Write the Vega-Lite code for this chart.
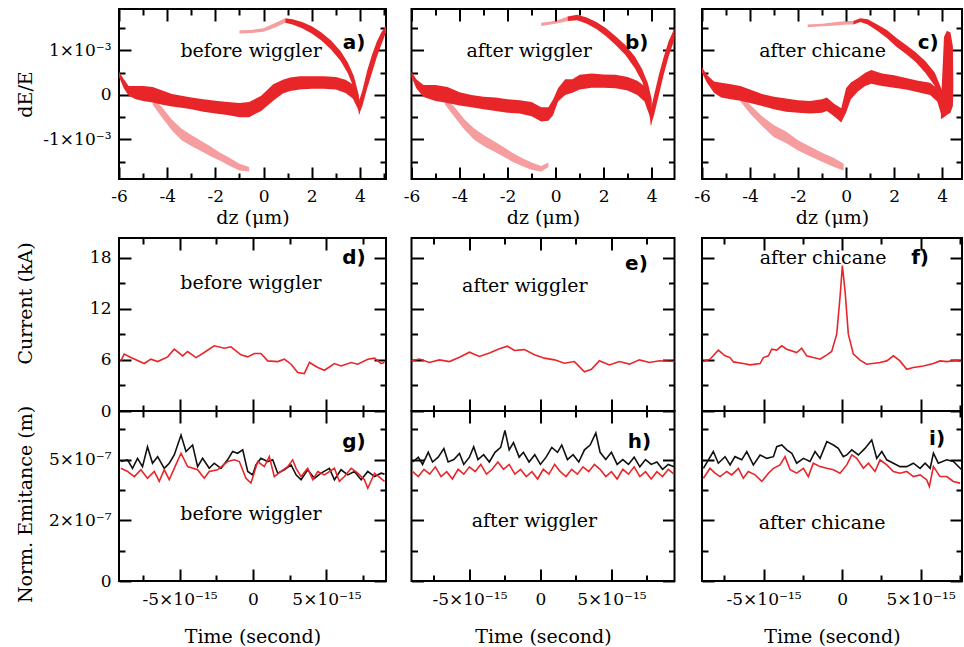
{
"$schema": "https://vega.github.io/schema/vega-lite/v6.json",
"background": "white",
"padding": {"left": 14, "top": 7, "right": 0, "bottom": 0},
"config": {
 "view": {"stroke": "black", "strokeWidth": 2},
 "axis": {"domain": false, "grid": false, "tickColor": "black", "tickWidth": 2, "labelFont": "DejaVu Serif", "labelFontSize": 17, "labelColor": "black", "titleFont": "DejaVu Serif", "titleFontSize": 19, "titleFontWeight": "normal", "titleColor": "black", "labelOverlap": false, "labelFlush": false, "labelBound": false}
},
"datasets": {
 "a_dense": [
  {"s":"m","x":-6,"lo":0.00040,"hi":0.00052},{"s":"m","x":-5.8,"lo":0.00015,"hi":0.00035},{"s":"m","x":-5.6,"lo":-0.00002,"hi":0.00020},{"s":"m","x":-5.3,"lo":-0.00010,"hi":0.00020},{"s":"m","x":-5.0,"lo":-0.00014,"hi":0.00020},{"s":"m","x":-4.6,"lo":-0.00017,"hi":0.00018},{"s":"m","x":-4.2,"lo":-0.00022,"hi":0.00010},{"s":"m","x":-3.8,"lo":-0.00026,"hi":0.00002},{"s":"m","x":-3.4,"lo":-0.00029,"hi":-0.00002},{"s":"m","x":-3.0,"lo":-0.00032,"hi":-0.00006},{"s":"m","x":-2.5,"lo":-0.00038,"hi":-0.00010},{"s":"m","x":-2.0,"lo":-0.00042,"hi":-0.00013},{"s":"m","x":-1.5,"lo":-0.00045,"hi":-0.00016},{"s":"m","x":-1.0,"lo":-0.00050,"hi":-0.00018},{"s":"m","x":-0.6,"lo":-0.00050,"hi":-0.00016},{"s":"m","x":-0.1,"lo":-0.00036,"hi":-0.00002},{"s":"m","x":0.4,"lo":-0.00013,"hi":0.00024},{"s":"m","x":0.8,"lo":0.00003,"hi":0.00034},{"s":"m","x":1.1,"lo":0.00009,"hi":0.00039},{"s":"m","x":1.5,"lo":0.00012,"hi":0.00042},{"s":"m","x":2.0,"lo":0.00014,"hi":0.00042},{"s":"m","x":2.5,"lo":0.00014,"hi":0.00042},{"s":"m","x":3.0,"lo":0.00012,"hi":0.00040},{"s":"m","x":3.4,"lo":0.00004,"hi":0.00034},{"s":"m","x":3.7,"lo":-0.00008,"hi":0.00024},{"s":"m","x":3.9,"lo":-0.00030,"hi":0.00005},{"s":"m","x":4.0,"lo":-0.00045,"hi":-0.00015},
  {"s":"u","x":0.9,"lo":0.00162,"hi":0.00172},{"s":"u","x":1.2,"lo":0.00158,"hi":0.00170},{"s":"u","x":1.6,"lo":0.00150,"hi":0.00164},{"s":"u","x":2.0,"lo":0.00138,"hi":0.00154},{"s":"u","x":2.4,"lo":0.00122,"hi":0.00140},{"s":"u","x":2.8,"lo":0.00102,"hi":0.00122},{"s":"u","x":3.2,"lo":0.00076,"hi":0.00098},{"s":"u","x":3.5,"lo":0.00048,"hi":0.00072},{"s":"u","x":3.75,"lo":0.00015,"hi":0.00042},{"s":"u","x":3.95,"lo":-0.00030,"hi":0.0},
  {"s":"r","x":3.95,"lo":-0.00045,"hi":-0.00015},{"s":"r","x":4.1,"lo":-0.00025,"hi":0.00010},{"s":"r","x":4.3,"lo":0.00015,"hi":0.00055},{"s":"r","x":4.5,"lo":0.00050,"hi":0.00090},{"s":"r","x":4.7,"lo":0.00085,"hi":0.00120},{"s":"r","x":4.9,"lo":0.00115,"hi":0.00142},{"s":"r","x":5.08,"lo":0.00140,"hi":0.00155}
 ],
 "a_sparse": [
  {"s":"u","x":-1.0,"lo":0.00138,"hi":0.00145},{"s":"u","x":-0.5,"lo":0.00139,"hi":0.00146},{"s":"u","x":0.0,"lo":0.00142,"hi":0.00150},{"s":"u","x":0.5,"lo":0.00152,"hi":0.00162},{"s":"u","x":0.9,"lo":0.00162,"hi":0.00172},
  {"s":"l","x":-4.6,"lo":-0.00022,"hi":-0.00005},{"s":"l","x":-4.2,"lo":-0.00052,"hi":-0.00029},{"s":"l","x":-3.8,"lo":-0.00080,"hi":-0.00056},{"s":"l","x":-3.4,"lo":-0.00102,"hi":-0.00076},{"s":"l","x":-3.0,"lo":-0.00115,"hi":-0.00090},{"s":"l","x":-2.6,"lo":-0.00126,"hi":-0.00103},{"s":"l","x":-2.2,"lo":-0.00138,"hi":-0.00116},{"s":"l","x":-1.8,"lo":-0.00148,"hi":-0.00130},{"s":"l","x":-1.4,"lo":-0.00160,"hi":-0.00142},{"s":"l","x":-1.0,"lo":-0.00170,"hi":-0.00155},{"s":"l","x":-0.6,"lo":-0.00172,"hi":-0.00162}
 ],
 "b_dense": [
  {"s":"m","x":-6,"lo":0.00040,"hi":0.00052},{"s":"m","x":-5.8,"lo":0.00015,"hi":0.00035},{"s":"m","x":-5.5,"lo":-0.00005,"hi":0.00022},{"s":"m","x":-5.0,"lo":-0.00014,"hi":0.00022},{"s":"m","x":-4.5,"lo":-0.00018,"hi":0.00018},{"s":"m","x":-4.0,"lo":-0.00024,"hi":0.00006},{"s":"m","x":-3.5,"lo":-0.00028,"hi":0.0},{"s":"m","x":-3.0,"lo":-0.00032,"hi":-0.00004},{"s":"m","x":-2.5,"lo":-0.00036,"hi":-0.00006},{"s":"m","x":-2.0,"lo":-0.00040,"hi":-0.00010},{"s":"m","x":-1.5,"lo":-0.00042,"hi":-0.00012},{"s":"m","x":-1.0,"lo":-0.00048,"hi":-0.00016},{"s":"m","x":-0.6,"lo":-0.00060,"hi":-0.00028},{"s":"m","x":-0.3,"lo":-0.00058,"hi":-0.00028},{"s":"m","x":-0.1,"lo":-0.00045,"hi":-0.00010},{"s":"m","x":0.1,"lo":-0.00015,"hi":0.00015},{"s":"m","x":0.4,"lo":0.0,"hi":0.00035},{"s":"m","x":0.7,"lo":0.00005,"hi":0.00035},{"s":"m","x":1.0,"lo":0.00012,"hi":0.00045},{"s":"m","x":1.5,"lo":0.00016,"hi":0.00048},{"s":"m","x":2.0,"lo":0.00016,"hi":0.00046},{"s":"m","x":2.5,"lo":0.00015,"hi":0.00045},{"s":"m","x":3.0,"lo":0.00010,"hi":0.00040},{"s":"m","x":3.4,"lo":0.0,"hi":0.00032},{"s":"m","x":3.7,"lo":-0.00015,"hi":0.00020},{"s":"m","x":3.9,"lo":-0.00045,"hi":-0.00005},{"s":"m","x":4.0,"lo":-0.00070,"hi":-0.00035},
  {"s":"u","x":0.5,"lo":0.00166,"hi":0.00176},{"s":"u","x":0.9,"lo":0.00168,"hi":0.00180},{"s":"u","x":1.3,"lo":0.00160,"hi":0.00174},{"s":"u","x":1.7,"lo":0.00148,"hi":0.00164},{"s":"u","x":2.1,"lo":0.00132,"hi":0.00150},{"s":"u","x":2.5,"lo":0.00112,"hi":0.00132},{"s":"u","x":2.9,"lo":0.00090,"hi":0.00112},{"s":"u","x":3.3,"lo":0.00060,"hi":0.00086},{"s":"u","x":3.6,"lo":0.00030,"hi":0.00058},{"s":"u","x":3.85,"lo":-0.00005,"hi":0.00025},{"s":"u","x":4.0,"lo":-0.00045,"hi":-0.00010},
  {"s":"r","x":3.95,"lo":-0.00070,"hi":-0.00035},{"s":"r","x":4.1,"lo":-0.00045,"hi":0.0},{"s":"r","x":4.3,"lo":0.0,"hi":0.00045},{"s":"r","x":4.5,"lo":0.00045,"hi":0.00085},{"s":"r","x":4.7,"lo":0.00085,"hi":0.00120},{"s":"r","x":4.95,"lo":0.00125,"hi":0.00150}
 ],
 "b_sparse": [
  {"s":"u","x":-0.6,"lo":0.00155,"hi":0.00162},{"s":"u","x":-0.2,"lo":0.00158,"hi":0.00165},{"s":"u","x":0.2,"lo":0.00162,"hi":0.00170},{"s":"u","x":0.5,"lo":0.00166,"hi":0.00176},
  {"s":"l","x":-4.6,"lo":-0.00022,"hi":-0.00005},{"s":"l","x":-4.2,"lo":-0.00050,"hi":-0.00028},{"s":"l","x":-3.8,"lo":-0.00078,"hi":-0.00055},{"s":"l","x":-3.4,"lo":-0.00100,"hi":-0.00075},{"s":"l","x":-3.0,"lo":-0.00115,"hi":-0.00090},{"s":"l","x":-2.6,"lo":-0.00126,"hi":-0.00103},{"s":"l","x":-2.2,"lo":-0.00138,"hi":-0.00116},{"s":"l","x":-1.8,"lo":-0.00150,"hi":-0.00130},{"s":"l","x":-1.4,"lo":-0.00160,"hi":-0.00142},{"s":"l","x":-1.0,"lo":-0.00168,"hi":-0.00152},{"s":"l","x":-0.6,"lo":-0.00172,"hi":-0.00160},{"s":"l","x":-0.3,"lo":-0.00162,"hi":-0.00152}
 ],
 "c_dense": [
  {"s":"m","x":-6,"lo":0.00050,"hi":0.00062},{"s":"m","x":-5.8,"lo":0.00028,"hi":0.00045},{"s":"m","x":-5.5,"lo":0.00005,"hi":0.00030},{"s":"m","x":-5.2,"lo":-0.00006,"hi":0.00027},{"s":"m","x":-4.8,"lo":-0.00010,"hi":0.00024},{"s":"m","x":-4.4,"lo":-0.00013,"hi":0.00020},{"s":"m","x":-4.0,"lo":-0.00018,"hi":0.00012},{"s":"m","x":-3.5,"lo":-0.00025,"hi":0.00002},{"s":"m","x":-3.0,"lo":-0.00032,"hi":-0.00004},{"s":"m","x":-2.5,"lo":-0.00038,"hi":-0.00008},{"s":"m","x":-2.0,"lo":-0.00040,"hi":-0.00012},{"s":"m","x":-1.5,"lo":-0.00042,"hi":-0.00014},{"s":"m","x":-1.0,"lo":-0.00040,"hi":-0.00010},{"s":"m","x":-0.8,"lo":-0.00036,"hi":-0.00006},{"s":"m","x":-0.5,"lo":-0.00048,"hi":-0.00020},{"s":"m","x":-0.2,"lo":-0.00062,"hi":-0.00030},{"s":"m","x":0.0,"lo":-0.00040,"hi":0.00015},{"s":"m","x":0.2,"lo":-0.00010,"hi":0.00028},{"s":"m","x":0.5,"lo":0.00008,"hi":0.00038},{"s":"m","x":0.8,"lo":0.00020,"hi":0.00050},{"s":"m","x":1.05,"lo":0.00025,"hi":0.00056},{"s":"m","x":1.5,"lo":0.00020,"hi":0.00048},{"s":"m","x":2.0,"lo":0.00016,"hi":0.00044},{"s":"m","x":2.5,"lo":0.00012,"hi":0.00038},{"s":"m","x":3.0,"lo":0.00006,"hi":0.00032},{"s":"m","x":3.5,"lo":0.0,"hi":0.00027},{"s":"m","x":3.8,"lo":-0.00015,"hi":0.00015},{"s":"m","x":4.0,"lo":-0.00050,"hi":-0.00020},
  {"s":"u","x":0.3,"lo":0.00158,"hi":0.00166},{"s":"u","x":0.6,"lo":0.00164,"hi":0.00172},{"s":"u","x":0.9,"lo":0.00158,"hi":0.00170},{"s":"u","x":1.3,"lo":0.00144,"hi":0.00158},{"s":"u","x":1.7,"lo":0.00128,"hi":0.00146},{"s":"u","x":2.1,"lo":0.00108,"hi":0.00128},{"s":"u","x":2.5,"lo":0.00092,"hi":0.00112},{"s":"u","x":2.9,"lo":0.00074,"hi":0.00096},{"s":"u","x":3.3,"lo":0.00050,"hi":0.00076},{"s":"u","x":3.7,"lo":0.00020,"hi":0.00050},{"s":"u","x":4.0,"lo":-0.00030,"hi":0.00010},
  {"s":"r","x":3.95,"lo":-0.00055,"hi":-0.00025},{"s":"r","x":4.08,"lo":-0.00050,"hi":0.00130},{"s":"r","x":4.2,"lo":-0.00045,"hi":0.00144},{"s":"r","x":4.35,"lo":-0.00040,"hi":0.00140},{"s":"r","x":4.45,"lo":-0.00025,"hi":0.00110},{"s":"r","x":4.47,"lo":0.0002,"hi":0.0002}
 ],
 "c_sparse": [
  {"s":"u","x":-1.6,"lo":0.00152,"hi":0.00158},{"s":"u","x":-1.0,"lo":0.00154,"hi":0.00160},{"s":"u","x":-0.4,"lo":0.00156,"hi":0.00164},{"s":"u","x":0.0,"lo":0.00158,"hi":0.00166},{"s":"u","x":0.3,"lo":0.00158,"hi":0.00166},
  {"s":"l","x":-4.4,"lo":-0.00015,"hi":0.0},{"s":"l","x":-4.0,"lo":-0.00042,"hi":-0.00022},{"s":"l","x":-3.5,"lo":-0.00070,"hi":-0.00048},{"s":"l","x":-3.0,"lo":-0.00095,"hi":-0.00068},{"s":"l","x":-2.5,"lo":-0.00108,"hi":-0.00082},{"s":"l","x":-2.0,"lo":-0.00125,"hi":-0.00102},{"s":"l","x":-1.5,"lo":-0.00138,"hi":-0.00116},{"s":"l","x":-1.0,"lo":-0.00150,"hi":-0.00130},{"s":"l","x":-0.5,"lo":-0.00162,"hi":-0.00142},{"s":"l","x":-0.1,"lo":-0.00170,"hi":-0.00155}
 ],
 "d_cur": [
  {"t":-8.99e-15,"v":5.88},{"t":-8.77e-15,"v":6.67},{"t":-8.31e-15,"v":6.27},{"t":-7.40e-15,"v":5.57},{"t":-6.95e-15,"v":6.08},{"t":-6.49e-15,"v":5.80},{"t":-5.81e-15,"v":6.35},{"t":-5.36e-15,"v":7.25},{"t":-4.79e-15,"v":6.47},{"t":-4.45e-15,"v":6.98},{"t":-3.88e-15,"v":6.27},{"t":-3.32e-15,"v":6.86},{"t":-2.64e-15,"v":7.65},{"t":-1.95e-15,"v":7.37},{"t":-1.50e-15,"v":7.53},{"t":-0.82e-15,"v":6.59},{"t":-0.36e-15,"v":6.35},{"t":0.09e-15,"v":6.75},{"t":0.54e-15,"v":6.75},{"t":1.00e-15,"v":5.88},{"t":1.68e-15,"v":5.80},{"t":2.13e-15,"v":6.08},{"t":2.59e-15,"v":5.49},{"t":3.04e-15,"v":4.51},{"t":3.49e-15,"v":4.39},{"t":3.84e-15,"v":5.69},{"t":4.41e-15,"v":5.10},{"t":4.86e-15,"v":4.78},{"t":5.54e-15,"v":5.57},{"t":5.99e-15,"v":5.29},{"t":6.68e-15,"v":5.69},{"t":7.13e-15,"v":5.49},{"t":7.81e-15,"v":6.08},{"t":8.27e-15,"v":6.20},{"t":8.72e-15,"v":5.57},{"t":8.95e-15,"v":5.69}
 ],
 "e_cur": [
  {"t":-9.08e-15,"v":5.9},{"t":-8.52e-15,"v":6.1},{"t":-7.82e-15,"v":5.7},{"t":-7.11e-15,"v":6.0},{"t":-6.41e-15,"v":5.8},{"t":-5.70e-15,"v":6.3},{"t":-5.00e-15,"v":6.9},{"t":-4.30e-15,"v":6.4},{"t":-3.59e-15,"v":6.8},{"t":-2.89e-15,"v":7.3},{"t":-2.32e-15,"v":7.6},{"t":-1.83e-15,"v":7.1},{"t":-1.13e-15,"v":7.2},{"t":-0.42e-15,"v":6.6},{"t":0.28e-15,"v":6.2},{"t":0.99e-15,"v":6.0},{"t":1.69e-15,"v":5.6},{"t":2.39e-15,"v":5.8},{"t":3.10e-15,"v":4.6},{"t":3.59e-15,"v":4.9},{"t":4.15e-15,"v":5.9},{"t":4.86e-15,"v":5.4},{"t":5.56e-15,"v":5.8},{"t":6.27e-15,"v":5.5},{"t":6.97e-15,"v":6.0},{"t":7.68e-15,"v":5.7},{"t":8.38e-15,"v":5.9},{"t":9.44e-15,"v":5.8}
 ],
 "f_cur": [
  {"t":-8.83e-15,"v":5.80},{"t":-8.41e-15,"v":6.08},{"t":-7.88e-15,"v":7.14},{"t":-7.45e-15,"v":6.47},{"t":-7.13e-15,"v":6.27},{"t":-6.92e-15,"v":5.76},{"t":-6.29e-15,"v":5.57},{"t":-5.86e-15,"v":5.41},{"t":-5.22e-15,"v":5.57},{"t":-5.01e-15,"v":6.27},{"t":-4.69e-15,"v":6.47},{"t":-4.48e-15,"v":7.25},{"t":-4.16e-15,"v":7.14},{"t":-3.84e-15,"v":7.65},{"t":-3.52e-15,"v":7.25},{"t":-2.89e-15,"v":6.86},{"t":-2.57e-15,"v":7.37},{"t":-2.25e-15,"v":6.47},{"t":-1.83e-15,"v":6.27},{"t":-1.40e-15,"v":6.08},{"t":-0.97e-15,"v":6.59},{"t":-0.66e-15,"v":6.98},{"t":-0.34e-15,"v":9.02},{"t":-0.13e-15,"v":13.33},{"t":0.02e-15,"v":17.06},{"t":0.19e-15,"v":14.12},{"t":0.40e-15,"v":9.02},{"t":0.72e-15,"v":6.67},{"t":1.15e-15,"v":5.96},{"t":1.57e-15,"v":5.49},{"t":2.42e-15,"v":5.69},{"t":2.85e-15,"v":5.88},{"t":3.27e-15,"v":6.47},{"t":3.69e-15,"v":5.88},{"t":4.12e-15,"v":4.90},{"t":4.54e-15,"v":5.10},{"t":5.18e-15,"v":5.29},{"t":5.82e-15,"v":5.57},{"t":6.24e-15,"v":5.88},{"t":6.67e-15,"v":5.80},{"t":7.31e-15,"v":5.96},{"t":7.62e-15,"v":5.80}
 ],
 "g_blk": [
  {"t":-8.99e-15,"v":4.92e-7},{"t":-8.54e-15,"v":4.99e-7},{"t":-8.20e-15,"v":4.64e-7},{"t":-7.86e-15,"v":5.05e-7},{"t":-7.52e-15,"v":4.71e-7},{"t":-7.18e-15,"v":5.53e-7},{"t":-6.84e-15,"v":4.85e-7},{"t":-6.49e-15,"v":5.12e-7},{"t":-6.04e-15,"v":4.64e-7},{"t":-5.70e-15,"v":4.85e-7},{"t":-5.36e-15,"v":5.19e-7},{"t":-4.90e-15,"v":6.01e-7},{"t":-4.56e-15,"v":5.33e-7},{"t":-4.11e-15,"v":5.60e-7},{"t":-3.77e-15,"v":4.71e-7},{"t":-3.43e-15,"v":5.05e-7},{"t":-2.98e-15,"v":4.64e-7},{"t":-2.64e-15,"v":4.85e-7},{"t":-2.18e-15,"v":4.64e-7},{"t":-1.73e-15,"v":4.99e-7},{"t":-1.39e-15,"v":5.33e-7},{"t":-1.05e-15,"v":5.26e-7},{"t":-0.70e-15,"v":5.40e-7},{"t":-0.36e-15,"v":4.51e-7},{"t":-0.02e-15,"v":4.37e-7},{"t":0.20e-15,"v":4.78e-7},{"t":0.54e-15,"v":5.05e-7},{"t":1.00e-15,"v":4.92e-7},{"t":1.34e-15,"v":4.99e-7},{"t":1.68e-15,"v":4.44e-7},{"t":2.13e-15,"v":4.58e-7},{"t":2.59e-15,"v":4.78e-7},{"t":2.93e-15,"v":4.37e-7},{"t":3.27e-15,"v":4.17e-7},{"t":3.72e-15,"v":4.58e-7},{"t":4.18e-15,"v":4.23e-7},{"t":4.63e-15,"v":4.44e-7},{"t":5.20e-15,"v":4.64e-7},{"t":5.54e-15,"v":4.17e-7},{"t":5.99e-15,"v":4.58e-7},{"t":6.45e-15,"v":4.37e-7},{"t":6.90e-15,"v":4.51e-7},{"t":7.36e-15,"v":4.17e-7},{"t":7.81e-15,"v":4.51e-7},{"t":8.27e-15,"v":4.30e-7},{"t":8.72e-15,"v":4.44e-7},{"t":8.95e-15,"v":4.40e-7}
 ],
 "g_red": [
  {"t":-8.99e-15,"v":4.64e-7},{"t":-8.54e-15,"v":4.51e-7},{"t":-8.08e-15,"v":4.30e-7},{"t":-7.63e-15,"v":4.58e-7},{"t":-7.18e-15,"v":4.23e-7},{"t":-6.72e-15,"v":4.51e-7},{"t":-6.38e-15,"v":4.10e-7},{"t":-6.04e-15,"v":4.58e-7},{"t":-5.70e-15,"v":4.17e-7},{"t":-5.36e-15,"v":4.64e-7},{"t":-4.90e-15,"v":5.26e-7},{"t":-4.45e-15,"v":4.71e-7},{"t":-3.77e-15,"v":4.58e-7},{"t":-3.32e-15,"v":4.23e-7},{"t":-2.98e-15,"v":4.51e-7},{"t":-2.41e-15,"v":4.58e-7},{"t":-1.73e-15,"v":4.92e-7},{"t":-1.27e-15,"v":4.99e-7},{"t":-0.93e-15,"v":4.92e-7},{"t":-0.48e-15,"v":4.23e-7},{"t":-0.14e-15,"v":4.03e-7},{"t":0.32e-15,"v":4.92e-7},{"t":0.77e-15,"v":4.71e-7},{"t":1.11e-15,"v":5.12e-7},{"t":1.45e-15,"v":4.30e-7},{"t":1.91e-15,"v":4.51e-7},{"t":2.36e-15,"v":4.71e-7},{"t":2.70e-15,"v":4.99e-7},{"t":2.93e-15,"v":4.64e-7},{"t":3.27e-15,"v":4.30e-7},{"t":3.72e-15,"v":4.64e-7},{"t":4.07e-15,"v":4.17e-7},{"t":4.41e-15,"v":4.51e-7},{"t":4.86e-15,"v":4.37e-7},{"t":5.54e-15,"v":4.64e-7},{"t":5.88e-15,"v":4.10e-7},{"t":6.22e-15,"v":4.30e-7},{"t":6.68e-15,"v":4.64e-7},{"t":7.13e-15,"v":4.44e-7},{"t":7.58e-15,"v":4.17e-7},{"t":7.81e-15,"v":3.82e-7},{"t":8.27e-15,"v":4.44e-7},{"t":8.95e-15,"v":4.10e-7}
 ],
 "h_blk": [
  {"t":-9.0e-15,"v":4.9e-7},{"t":-8.6e-15,"v":5.1e-7},{"t":-8.3e-15,"v":4.8e-7},{"t":-7.9e-15,"v":5.3e-7},{"t":-7.6e-15,"v":4.9e-7},{"t":-7.2e-15,"v":5.1e-7},{"t":-6.8e-15,"v":5.45e-7},{"t":-6.5e-15,"v":4.9e-7},{"t":-6.1e-15,"v":5.0e-7},{"t":-5.7e-15,"v":5.25e-7},{"t":-5.4e-15,"v":4.8e-7},{"t":-5.0e-15,"v":5.1e-7},{"t":-4.7e-15,"v":5.53e-7},{"t":-4.4e-15,"v":5.0e-7},{"t":-4.0e-15,"v":5.2e-7},{"t":-3.6e-15,"v":4.9e-7},{"t":-3.2e-15,"v":5.3e-7},{"t":-2.8e-15,"v":5.5e-7},{"t":-2.5e-15,"v":6.2e-7},{"t":-2.2e-15,"v":5.4e-7},{"t":-1.9e-15,"v":5.7e-7},{"t":-1.5e-15,"v":5.1e-7},{"t":-1.2e-15,"v":5.3e-7},{"t":-0.8e-15,"v":4.9e-7},{"t":-0.4e-15,"v":5.2e-7},{"t":0.0,"v":4.8e-7},{"t":0.4e-15,"v":5.1e-7},{"t":0.8e-15,"v":5.5e-7},{"t":1.2e-15,"v":5.3e-7},{"t":1.5e-15,"v":5.6e-7},{"t":1.9e-15,"v":5.0e-7},{"t":2.3e-15,"v":5.2e-7},{"t":2.7e-15,"v":4.9e-7},{"t":3.1e-15,"v":5.4e-7},{"t":3.5e-15,"v":5.6e-7},{"t":3.9e-15,"v":6.1e-7},{"t":4.2e-15,"v":5.3e-7},{"t":4.6e-15,"v":5.0e-7},{"t":5.0e-15,"v":5.3e-7},{"t":5.4e-15,"v":4.8e-7},{"t":5.8e-15,"v":5.0e-7},{"t":6.2e-15,"v":4.8e-7},{"t":6.6e-15,"v":5.1e-7},{"t":7.0e-15,"v":4.7e-7},{"t":7.4e-15,"v":5.0e-7},{"t":7.8e-15,"v":4.8e-7},{"t":8.2e-15,"v":4.9e-7},{"t":8.6e-15,"v":4.6e-7},{"t":9.0e-15,"v":4.8e-7},{"t":9.4e-15,"v":4.7e-7}
 ],
 "h_red": [
  {"t":-9.0e-15,"v":4.5e-7},{"t":-8.6e-15,"v":4.3e-7},{"t":-8.2e-15,"v":4.6e-7},{"t":-7.8e-15,"v":4.4e-7},{"t":-7.4e-15,"v":4.7e-7},{"t":-7.0e-15,"v":4.3e-7},{"t":-6.6e-15,"v":4.5e-7},{"t":-6.2e-15,"v":4.2e-7},{"t":-5.8e-15,"v":4.6e-7},{"t":-5.4e-15,"v":4.4e-7},{"t":-5.0e-15,"v":4.7e-7},{"t":-4.6e-15,"v":4.5e-7},{"t":-4.2e-15,"v":4.8e-7},{"t":-3.8e-15,"v":4.4e-7},{"t":-3.4e-15,"v":4.6e-7},{"t":-3.0e-15,"v":4.9e-7},{"t":-2.6e-15,"v":4.6e-7},{"t":-2.2e-15,"v":4.8e-7},{"t":-1.8e-15,"v":4.4e-7},{"t":-1.4e-15,"v":4.6e-7},{"t":-1.0e-15,"v":4.3e-7},{"t":-0.6e-15,"v":4.5e-7},{"t":-0.2e-15,"v":4.2e-7},{"t":0.2e-15,"v":4.6e-7},{"t":0.6e-15,"v":4.4e-7},{"t":1.0e-15,"v":4.8e-7},{"t":1.4e-15,"v":4.5e-7},{"t":1.8e-15,"v":4.3e-7},{"t":2.2e-15,"v":4.6e-7},{"t":2.6e-15,"v":4.4e-7},{"t":3.0e-15,"v":4.7e-7},{"t":3.4e-15,"v":4.5e-7},{"t":3.8e-15,"v":4.8e-7},{"t":4.2e-15,"v":4.6e-7},{"t":4.6e-15,"v":4.3e-7},{"t":5.0e-15,"v":4.5e-7},{"t":5.4e-15,"v":4.2e-7},{"t":5.8e-15,"v":4.6e-7},{"t":6.2e-15,"v":4.4e-7},{"t":6.6e-15,"v":4.7e-7},{"t":7.0e-15,"v":4.3e-7},{"t":7.4e-15,"v":4.5e-7},{"t":7.8e-15,"v":4.2e-7},{"t":8.2e-15,"v":4.5e-7},{"t":8.6e-15,"v":4.3e-7},{"t":9.0e-15,"v":4.6e-7},{"t":9.4e-15,"v":4.4e-7}
 ],
 "i_blk": [
  {"t":-8.83e-15,"v":4.64e-7},{"t":-8.20e-15,"v":5.33e-7},{"t":-7.88e-15,"v":4.85e-7},{"t":-7.45e-15,"v":5.12e-7},{"t":-7.13e-15,"v":4.78e-7},{"t":-6.82e-15,"v":5.12e-7},{"t":-6.39e-15,"v":4.99e-7},{"t":-6.07e-15,"v":5.33e-7},{"t":-5.65e-15,"v":4.78e-7},{"t":-5.22e-15,"v":5.19e-7},{"t":-4.80e-15,"v":5.05e-7},{"t":-4.37e-15,"v":5.12e-7},{"t":-4.16e-15,"v":5.53e-7},{"t":-3.84e-15,"v":5.60e-7},{"t":-3.52e-15,"v":5.40e-7},{"t":-3.20e-15,"v":5.26e-7},{"t":-2.89e-15,"v":4.85e-7},{"t":-2.46e-15,"v":5.05e-7},{"t":-2.04e-15,"v":4.92e-7},{"t":-1.72e-15,"v":5.33e-7},{"t":-1.40e-15,"v":5.05e-7},{"t":-0.97e-15,"v":5.74e-7},{"t":-0.55e-15,"v":5.60e-7},{"t":-0.24e-15,"v":5.46e-7},{"t":0.08e-15,"v":5.12e-7},{"t":0.30e-15,"v":5.19e-7},{"t":0.62e-15,"v":5.40e-7},{"t":1.04e-15,"v":5.19e-7},{"t":1.46e-15,"v":5.46e-7},{"t":1.89e-15,"v":5.81e-7},{"t":2.21e-15,"v":5.05e-7},{"t":2.53e-15,"v":5.33e-7},{"t":2.85e-15,"v":4.99e-7},{"t":3.27e-15,"v":4.85e-7},{"t":3.69e-15,"v":4.71e-7},{"t":4.12e-15,"v":4.71e-7},{"t":4.54e-15,"v":4.85e-7},{"t":4.97e-15,"v":4.64e-7},{"t":5.29e-15,"v":4.85e-7},{"t":5.61e-15,"v":4.64e-7},{"t":5.82e-15,"v":5.26e-7},{"t":6.13e-15,"v":4.85e-7},{"t":6.67e-15,"v":4.99e-7},{"t":7.09e-15,"v":4.92e-7},{"t":7.62e-15,"v":4.58e-7}
 ],
 "i_red": [
  {"t":-8.83e-15,"v":4.23e-7},{"t":-8.41e-15,"v":4.64e-7},{"t":-8.09e-15,"v":4.44e-7},{"t":-7.77e-15,"v":4.30e-7},{"t":-7.34e-15,"v":4.51e-7},{"t":-7.03e-15,"v":4.37e-7},{"t":-6.60e-15,"v":4.64e-7},{"t":-6.29e-15,"v":4.23e-7},{"t":-5.97e-15,"v":4.51e-7},{"t":-5.54e-15,"v":4.37e-7},{"t":-5.11e-15,"v":4.10e-7},{"t":-4.69e-15,"v":4.44e-7},{"t":-4.37e-15,"v":4.64e-7},{"t":-3.95e-15,"v":4.78e-7},{"t":-3.63e-15,"v":5.12e-7},{"t":-3.31e-15,"v":4.58e-7},{"t":-2.89e-15,"v":4.44e-7},{"t":-2.46e-15,"v":4.64e-7},{"t":-2.15e-15,"v":4.30e-7},{"t":-1.83e-15,"v":4.85e-7},{"t":-1.40e-15,"v":4.71e-7},{"t":-0.97e-15,"v":4.64e-7},{"t":-0.55e-15,"v":4.58e-7},{"t":-0.13e-15,"v":4.44e-7},{"t":0.30e-15,"v":4.78e-7},{"t":0.62e-15,"v":5.19e-7},{"t":0.94e-15,"v":5.05e-7},{"t":1.36e-15,"v":4.64e-7},{"t":1.68e-15,"v":4.85e-7},{"t":2.10e-15,"v":4.51e-7},{"t":2.42e-15,"v":4.99e-7},{"t":2.85e-15,"v":4.78e-7},{"t":3.27e-15,"v":4.51e-7},{"t":3.69e-15,"v":4.44e-7},{"t":4.12e-15,"v":4.51e-7},{"t":4.54e-15,"v":4.30e-7},{"t":4.97e-15,"v":4.37e-7},{"t":5.39e-15,"v":4.17e-7},{"t":5.56e-15,"v":3.89e-7},{"t":5.82e-15,"v":4.71e-7},{"t":6.24e-15,"v":4.30e-7},{"t":6.67e-15,"v":4.30e-7},{"t":7.09e-15,"v":4.10e-7},{"t":7.52e-15,"v":4.03e-7}
 ],
 "notes": [
  {"p":"a","x":-0.52,"y":0.00099,"t":"before wiggler"},
  {"p":"b","x":-1.1,"y":0.00099,"t":"after wiggler"},
  {"p":"c","x":-0.98,"y":0.00099,"t":"after chicane"},
  {"p":"d","x":-1.4e-16,"y":15.06,"t":"before wiggler"},
  {"p":"e","x":-1.1e-15,"y":14.7,"t":"after wiggler"},
  {"p":"f","x":-1.21e-15,"y":17.9,"t":"after chicane"},
  {"p":"g","x":-1.4e-16,"y":2.75e-7,"t":"before wiggler"},
  {"p":"h","x":-4.2e-16,"y":2.46e-7,"t":"after wiggler"},
  {"p":"i","x":-1.27e-15,"y":2.38e-7,"t":"after chicane"}
 ],
 "letters": [
  {"p":"a","x":3.75,"y":0.00117,"t":"a)"},
  {"p":"b","x":3.38,"y":0.00117,"t":"b)"},
  {"p":"c","x":3.42,"y":0.00117,"t":"c)"},
  {"p":"d","x":6.87e-15,"y":17.9,"t":"d)"},
  {"p":"e","x":6.76e-15,"y":17.3,"t":"e)"},
  {"p":"f","x":4.97e-15,"y":17.9,"t":"f)"},
  {"p":"g","x":6.87e-15,"y":5.74e-7,"t":"g)"},
  {"p":"h","x":6.97e-15,"y":5.74e-7,"t":"h)"},
  {"p":"i","x":6.05e-15,"y":5.86e-7,"t":"i)"}
 ]
},
"hconcat": [
 {"vconcat": [
  {"width": 267, "height": 170,
   "layer": [
    {"data": {"name": "a_dense"}, "mark": {"type": "area", "color": "#e8262a"},
     "encoding": {
      "x": {"field": "x", "type": "quantitative", "scale": {"domain": [-6, 5.08], "nice": false, "zero": false}, "axis": {"orient": "bottom", "values": [-6,-5,-4,-3,-2,-1,0,1,2,3,4,5], "tickSize": {"condition": {"test": "datum.value % 2 == 0", "value": -12}, "value": -6}, "labelExpr": "datum.value % 2 == 0 ? '' + datum.value : ''", "labelPadding": 21, "title": "dz (μm)", "titleY": 38, "titleBaseline": "middle"}},
      "y": {"field": "lo", "type": "quantitative", "scale": {"domain": [-0.00189, 0.00193], "nice": false, "zero": false}, "axis": {"orient": "left", "values": [-0.0015,-0.001,-0.0005,0,0.0005,0.001,0.0015], "tickSize": {"condition": {"test": "abs(datum.value) < 1e-9 || abs(abs(datum.value) - 0.001) < 1e-9", "value": -12}, "value": -6}, "labelExpr": "abs(datum.value) < 1e-9 ? '0' : abs(datum.value - 0.001) < 1e-9 ? '1×10⁻³' : abs(datum.value + 0.001) < 1e-9 ? '-1×10⁻³' : ''", "labelPadding": 20, "title": "dE/E", "titleX": -94, "titleBaseline": "middle"}},
      "y2": {"field": "hi"},
      "detail": {"field": "s"}}},
    {"data": {"name": "a_sparse"}, "mark": {"type": "area", "color": "#e8262a", "opacity": 0.45},
     "encoding": {"x": {"field": "x", "type": "quantitative", "axis": null}, "y": {"field": "lo", "type": "quantitative", "axis": null}, "y2": {"field": "hi"}, "detail": {"field": "s"}}},
    {"data": {"name": "notes"}, "transform": [{"filter": "datum.p == 'a'"}], "mark": {"type": "text", "font": "DejaVu Serif", "fontSize": 19, "color": "black", "align": "center", "baseline": "middle"},
     "encoding": {"x": {"field": "x", "type": "quantitative", "axis": {"orient": "top", "values": [-6,-5,-4,-3,-2,-1,0,1,2,3,4,5], "tickSize": {"condition": {"test": "datum.value % 2 == 0", "value": -12}, "value": -6}, "labels": false, "title": null}},
      "y": {"field": "y", "type": "quantitative", "axis": {"orient": "right", "values": [-0.0015,-0.001,-0.0005,0,0.0005,0.001,0.0015], "tickSize": {"condition": {"test": "abs(datum.value) < 1e-9 || abs(abs(datum.value) - 0.001) < 1e-9", "value": -12}, "value": -6}, "labels": false, "title": null}},
      "text": {"field": "t"}}},
    {"data": {"name": "letters"}, "transform": [{"filter": "datum.p == 'a'"}], "mark": {"type": "text", "font": "DejaVu Sans", "fontWeight": "bold", "fontSize": 20, "color": "black", "align": "center", "baseline": "middle"},
     "encoding": {"x": {"field": "x", "type": "quantitative", "axis": null}, "y": {"field": "y", "type": "quantitative", "axis": null}, "text": {"field": "t"}}}
   ],
   "resolve": {"axis": {"x": "independent", "y": "independent"}}},
  {"vconcat": [
   {"width": 267, "height": 173,
    "layer": [
     {"data": {"name": "d_cur"}, "mark": {"type": "line", "color": "#e8262a", "strokeWidth": 1.6},
      "encoding": {
       "x": {"field": "t", "type": "quantitative", "scale": {"domain": [-9.12e-15, 9.05e-15], "nice": false, "zero": false}, "axis": {"orient": "bottom", "values": [-7.5e-15,-5e-15,-2.5e-15,0,2.5e-15,5e-15,7.5e-15], "tickSize": {"condition": {"test": "abs(datum.value) < 1e-18 || abs(abs(datum.value) - 5e-15) < 1e-18", "value": -12}, "value": -6}, "labels": false, "title": null}},
       "y": {"field": "v", "type": "quantitative", "scale": {"domain": [0, 20.3], "nice": false, "zero": false}, "axis": {"orient": "left", "values": [0,3,6,9,12,15,18], "tickSize": {"condition": {"test": "datum.value % 6 == 0", "value": -12}, "value": -6}, "labelExpr": "datum.value % 6 == 0 ? '' + datum.value : ''", "labelPadding": 20, "title": "Current (kA)", "titleX": -94, "titleY": 65, "titleBaseline": "middle"}}}},
     {"data": {"name": "notes"}, "transform": [{"filter": "datum.p == 'd'"}], "mark": {"type": "text", "font": "DejaVu Serif", "fontSize": 19, "color": "black", "align": "center", "baseline": "middle"},
      "encoding": {"x": {"field": "x", "type": "quantitative", "axis": {"orient": "top", "values": [-7.5e-15,-5e-15,-2.5e-15,0,2.5e-15,5e-15,7.5e-15], "tickSize": {"condition": {"test": "abs(datum.value) < 1e-18 || abs(abs(datum.value) - 5e-15) < 1e-18", "value": -12}, "value": -6}, "labels": false, "title": null}},
       "y": {"field": "y", "type": "quantitative", "axis": {"orient": "right", "values": [0,3,6,9,12,15,18], "tickSize": {"condition": {"test": "datum.value % 6 == 0", "value": -12}, "value": -6}, "labels": false, "title": null}},
       "text": {"field": "t"}}},
     {"data": {"name": "letters"}, "transform": [{"filter": "datum.p == 'd'"}], "mark": {"type": "text", "font": "DejaVu Sans", "fontWeight": "bold", "fontSize": 20, "color": "black", "align": "center", "baseline": "middle"},
      "encoding": {"x": {"field": "x", "type": "quantitative", "axis": null}, "y": {"field": "y", "type": "quantitative", "axis": null}, "text": {"field": "t"}}}
    ],
    "resolve": {"axis": {"x": "independent", "y": "independent"}}},
   {"width": 267, "height": 170,
    "layer": [
     {"data": {"name": "g_blk"}, "mark": {"type": "line", "color": "#111111", "strokeWidth": 1.6},
      "encoding": {
       "x": {"field": "t", "type": "quantitative", "scale": {"domain": [-9.12e-15, 9.05e-15], "nice": false, "zero": false}, "axis": {"orient": "bottom", "values": [-7.5e-15,-5e-15,-2.5e-15,0,2.5e-15,5e-15,7.5e-15], "tickSize": {"condition": {"test": "abs(datum.value) < 1e-18 || abs(abs(datum.value) - 5e-15) < 1e-18", "value": -12}, "value": -6}, "labelExpr": "abs(datum.value) < 1e-18 ? '0' : abs(datum.value - 5e-15) < 1e-18 ? '5×10⁻¹⁵' : abs(datum.value + 5e-15) < 1e-18 ? '-5×10⁻¹⁵' : ''", "labelPadding": 22, "title": "Time (second)", "titleY": 55, "titleBaseline": "middle"}},
       "y": {"field": "v", "type": "quantitative", "scale": {"domain": [0, 7e-7], "nice": false, "zero": false}, "axis": {"orient": "left", "values": [0,1.25e-7,2.5e-7,3.75e-7,5e-7,6.25e-7], "tickSize": {"condition": {"test": "abs(datum.value * 4e6 - round(datum.value * 4e6)) < 1e-6", "value": -12}, "value": -6}, "labelExpr": "abs(datum.value) < 1e-12 ? '0' : abs(datum.value - 2.5e-7) < 1e-12 ? '2×10⁻⁷' : abs(datum.value - 5e-7) < 1e-12 ? '5×10⁻⁷' : ''", "labelPadding": 20, "title": "Norm. Emitance (m)", "titleX": -94, "titleY": 93, "titleBaseline": "middle"}}}},
     {"data": {"name": "g_red"}, "mark": {"type": "line", "color": "#e8262a", "strokeWidth": 1.6},
      "encoding": {"x": {"field": "t", "type": "quantitative", "axis": null}, "y": {"field": "v", "type": "quantitative", "axis": null}}},
     {"data": {"name": "notes"}, "transform": [{"filter": "datum.p == 'g'"}], "mark": {"type": "text", "font": "DejaVu Serif", "fontSize": 19, "color": "black", "align": "center", "baseline": "middle"},
      "encoding": {"x": {"field": "x", "type": "quantitative", "axis": {"orient": "top", "values": [-7.5e-15,-5e-15,-2.5e-15,0,2.5e-15,5e-15,7.5e-15], "tickSize": {"condition": {"test": "abs(datum.value) < 1e-18 || abs(abs(datum.value) - 5e-15) < 1e-18", "value": -12}, "value": -6}, "labels": false, "title": null}},
       "y": {"field": "y", "type": "quantitative", "axis": {"orient": "right", "values": [0,1.25e-7,2.5e-7,3.75e-7,5e-7,6.25e-7], "tickSize": {"condition": {"test": "abs(datum.value * 4e6 - round(datum.value * 4e6)) < 1e-6", "value": -12}, "value": -6}, "labels": false, "title": null}},
       "text": {"field": "t"}}},
     {"data": {"name": "letters"}, "transform": [{"filter": "datum.p == 'g'"}], "mark": {"type": "text", "font": "DejaVu Sans", "fontWeight": "bold", "fontSize": 20, "color": "black", "align": "center", "baseline": "middle"},
      "encoding": {"x": {"field": "x", "type": "quantitative", "axis": null}, "y": {"field": "y", "type": "quantitative", "axis": null}, "text": {"field": "t"}}}
    ],
    "resolve": {"axis": {"x": "independent", "y": "independent"}}}
  ], "spacing": 0, "bounds": "flush"}
 ], "spacing": 59, "bounds": "flush"},
 {"vconcat": [
  {"width": 263, "height": 170,
   "layer": [
    {"data": {"name": "b_dense"}, "mark": {"type": "area", "color": "#e8262a"},
     "encoding": {
      "x": {"field": "x", "type": "quantitative", "scale": {"domain": [-6, 4.95], "nice": false, "zero": false}, "axis": {"orient": "bottom", "values": [-6,-5,-4,-3,-2,-1,0,1,2,3,4], "tickSize": {"condition": {"test": "datum.value % 2 == 0", "value": -12}, "value": -6}, "labelExpr": "datum.value % 2 == 0 ? '' + datum.value : ''", "labelPadding": 21, "title": "dz (μm)", "titleY": 38, "titleBaseline": "middle"}},
      "y": {"field": "lo", "type": "quantitative", "scale": {"domain": [-0.00189, 0.00193], "nice": false, "zero": false}, "axis": {"orient": "left", "values": [-0.0015,-0.001,-0.0005,0,0.0005,0.001,0.0015], "tickSize": {"condition": {"test": "abs(datum.value) < 1e-9 || abs(abs(datum.value) - 0.001) < 1e-9", "value": -12}, "value": -6}, "labels": false, "title": null}},
      "y2": {"field": "hi"},
      "detail": {"field": "s"}}},
    {"data": {"name": "b_sparse"}, "mark": {"type": "area", "color": "#e8262a", "opacity": 0.45},
     "encoding": {"x": {"field": "x", "type": "quantitative", "axis": null}, "y": {"field": "lo", "type": "quantitative", "axis": null}, "y2": {"field": "hi"}, "detail": {"field": "s"}}},
    {"data": {"name": "notes"}, "transform": [{"filter": "datum.p == 'b'"}], "mark": {"type": "text", "font": "DejaVu Serif", "fontSize": 19, "color": "black", "align": "center", "baseline": "middle"},
     "encoding": {"x": {"field": "x", "type": "quantitative", "axis": {"orient": "top", "values": [-6,-5,-4,-3,-2,-1,0,1,2,3,4], "tickSize": {"condition": {"test": "datum.value % 2 == 0", "value": -12}, "value": -6}, "labels": false, "title": null}},
      "y": {"field": "y", "type": "quantitative", "axis": {"orient": "right", "values": [-0.0015,-0.001,-0.0005,0,0.0005,0.001,0.0015], "tickSize": {"condition": {"test": "abs(datum.value) < 1e-9 || abs(abs(datum.value) - 0.001) < 1e-9", "value": -12}, "value": -6}, "labels": false, "title": null}},
      "text": {"field": "t"}}},
    {"data": {"name": "letters"}, "transform": [{"filter": "datum.p == 'b'"}], "mark": {"type": "text", "font": "DejaVu Sans", "fontWeight": "bold", "fontSize": 20, "color": "black", "align": "center", "baseline": "middle"},
     "encoding": {"x": {"field": "x", "type": "quantitative", "axis": null}, "y": {"field": "y", "type": "quantitative", "axis": null}, "text": {"field": "t"}}}
   ],
   "resolve": {"axis": {"x": "independent", "y": "independent"}}},
  {"vconcat": [
   {"width": 263, "height": 173,
    "layer": [
     {"data": {"name": "e_cur"}, "mark": {"type": "line", "color": "#e8262a", "strokeWidth": 1.6},
      "encoding": {
       "x": {"field": "t", "type": "quantitative", "scale": {"domain": [-9.08e-15, 9.44e-15], "nice": false, "zero": false}, "axis": {"orient": "bottom", "values": [-7.5e-15,-5e-15,-2.5e-15,0,2.5e-15,5e-15,7.5e-15], "tickSize": {"condition": {"test": "abs(datum.value) < 1e-18 || abs(abs(datum.value) - 5e-15) < 1e-18", "value": -12}, "value": -6}, "labels": false, "title": null}},
       "y": {"field": "v", "type": "quantitative", "scale": {"domain": [0, 20.3], "nice": false, "zero": false}, "axis": {"orient": "left", "values": [0,3,6,9,12,15,18], "tickSize": {"condition": {"test": "datum.value % 6 == 0", "value": -12}, "value": -6}, "labels": false, "title": null}}}},
     {"data": {"name": "notes"}, "transform": [{"filter": "datum.p == 'e'"}], "mark": {"type": "text", "font": "DejaVu Serif", "fontSize": 19, "color": "black", "align": "center", "baseline": "middle"},
      "encoding": {"x": {"field": "x", "type": "quantitative", "axis": {"orient": "top", "values": [-7.5e-15,-5e-15,-2.5e-15,0,2.5e-15,5e-15,7.5e-15], "tickSize": {"condition": {"test": "abs(datum.value) < 1e-18 || abs(abs(datum.value) - 5e-15) < 1e-18", "value": -12}, "value": -6}, "labels": false, "title": null}},
       "y": {"field": "y", "type": "quantitative", "axis": {"orient": "right", "values": [0,3,6,9,12,15,18], "tickSize": {"condition": {"test": "datum.value % 6 == 0", "value": -12}, "value": -6}, "labels": false, "title": null}},
       "text": {"field": "t"}}},
     {"data": {"name": "letters"}, "transform": [{"filter": "datum.p == 'e'"}], "mark": {"type": "text", "font": "DejaVu Sans", "fontWeight": "bold", "fontSize": 20, "color": "black", "align": "center", "baseline": "middle"},
      "encoding": {"x": {"field": "x", "type": "quantitative", "axis": null}, "y": {"field": "y", "type": "quantitative", "axis": null}, "text": {"field": "t"}}}
    ],
    "resolve": {"axis": {"x": "independent", "y": "independent"}}},
   {"width": 263, "height": 170,
    "layer": [
     {"data": {"name": "h_blk"}, "mark": {"type": "line", "color": "#111111", "strokeWidth": 1.6},
      "encoding": {
       "x": {"field": "t", "type": "quantitative", "scale": {"domain": [-9.08e-15, 9.44e-15], "nice": false, "zero": false}, "axis": {"orient": "bottom", "values": [-7.5e-15,-5e-15,-2.5e-15,0,2.5e-15,5e-15,7.5e-15], "tickSize": {"condition": {"test": "abs(datum.value) < 1e-18 || abs(abs(datum.value) - 5e-15) < 1e-18", "value": -12}, "value": -6}, "labelExpr": "abs(datum.value) < 1e-18 ? '0' : abs(datum.value - 5e-15) < 1e-18 ? '5×10⁻¹⁵' : abs(datum.value + 5e-15) < 1e-18 ? '-5×10⁻¹⁵' : ''", "labelPadding": 22, "title": "Time (second)", "titleY": 55, "titleBaseline": "middle"}},
       "y": {"field": "v", "type": "quantitative", "scale": {"domain": [0, 7e-7], "nice": false, "zero": false}, "axis": {"orient": "left", "values": [0,1.25e-7,2.5e-7,3.75e-7,5e-7,6.25e-7], "tickSize": {"condition": {"test": "abs(datum.value * 4e6 - round(datum.value * 4e6)) < 1e-6", "value": -12}, "value": -6}, "labels": false, "title": null}}}},
     {"data": {"name": "h_red"}, "mark": {"type": "line", "color": "#e8262a", "strokeWidth": 1.6},
      "encoding": {"x": {"field": "t", "type": "quantitative", "axis": null}, "y": {"field": "v", "type": "quantitative", "axis": null}}},
     {"data": {"name": "notes"}, "transform": [{"filter": "datum.p == 'h'"}], "mark": {"type": "text", "font": "DejaVu Serif", "fontSize": 19, "color": "black", "align": "center", "baseline": "middle"},
      "encoding": {"x": {"field": "x", "type": "quantitative", "axis": {"orient": "top", "values": [-7.5e-15,-5e-15,-2.5e-15,0,2.5e-15,5e-15,7.5e-15], "tickSize": {"condition": {"test": "abs(datum.value) < 1e-18 || abs(abs(datum.value) - 5e-15) < 1e-18", "value": -12}, "value": -6}, "labels": false, "title": null}},
       "y": {"field": "y", "type": "quantitative", "axis": {"orient": "right", "values": [0,1.25e-7,2.5e-7,3.75e-7,5e-7,6.25e-7], "tickSize": {"condition": {"test": "abs(datum.value * 4e6 - round(datum.value * 4e6)) < 1e-6", "value": -12}, "value": -6}, "labels": false, "title": null}},
       "text": {"field": "t"}}},
     {"data": {"name": "letters"}, "transform": [{"filter": "datum.p == 'h'"}], "mark": {"type": "text", "font": "DejaVu Sans", "fontWeight": "bold", "fontSize": 20, "color": "black", "align": "center", "baseline": "middle"},
      "encoding": {"x": {"field": "x", "type": "quantitative", "axis": null}, "y": {"field": "y", "type": "quantitative", "axis": null}, "text": {"field": "t"}}}
    ],
    "resolve": {"axis": {"x": "independent", "y": "independent"}}}
  ], "spacing": 0, "bounds": "flush"}
 ], "spacing": 59, "bounds": "flush"},
 {"vconcat": [
  {"width": 260, "height": 170,
   "layer": [
    {"data": {"name": "c_dense"}, "mark": {"type": "area", "color": "#e8262a"},
     "encoding": {
      "x": {"field": "x", "type": "quantitative", "scale": {"domain": [-6, 4.83], "nice": false, "zero": false}, "axis": {"orient": "bottom", "values": [-6,-5,-4,-3,-2,-1,0,1,2,3,4], "tickSize": {"condition": {"test": "datum.value % 2 == 0", "value": -12}, "value": -6}, "labelExpr": "datum.value % 2 == 0 ? '' + datum.value : ''", "labelPadding": 21, "title": "dz (μm)", "titleY": 38, "titleBaseline": "middle"}},
      "y": {"field": "lo", "type": "quantitative", "scale": {"domain": [-0.00189, 0.00193], "nice": false, "zero": false}, "axis": {"orient": "left", "values": [-0.0015,-0.001,-0.0005,0,0.0005,0.001,0.0015], "tickSize": {"condition": {"test": "abs(datum.value) < 1e-9 || abs(abs(datum.value) - 0.001) < 1e-9", "value": -12}, "value": -6}, "labels": false, "title": null}},
      "y2": {"field": "hi"},
      "detail": {"field": "s"}}},
    {"data": {"name": "c_sparse"}, "mark": {"type": "area", "color": "#e8262a", "opacity": 0.45},
     "encoding": {"x": {"field": "x", "type": "quantitative", "axis": null}, "y": {"field": "lo", "type": "quantitative", "axis": null}, "y2": {"field": "hi"}, "detail": {"field": "s"}}},
    {"data": {"name": "notes"}, "transform": [{"filter": "datum.p == 'c'"}], "mark": {"type": "text", "font": "DejaVu Serif", "fontSize": 19, "color": "black", "align": "center", "baseline": "middle"},
     "encoding": {"x": {"field": "x", "type": "quantitative", "axis": {"orient": "top", "values": [-6,-5,-4,-3,-2,-1,0,1,2,3,4], "tickSize": {"condition": {"test": "datum.value % 2 == 0", "value": -12}, "value": -6}, "labels": false, "title": null}},
      "y": {"field": "y", "type": "quantitative", "axis": {"orient": "right", "values": [-0.0015,-0.001,-0.0005,0,0.0005,0.001,0.0015], "tickSize": {"condition": {"test": "abs(datum.value) < 1e-9 || abs(abs(datum.value) - 0.001) < 1e-9", "value": -12}, "value": -6}, "labels": false, "title": null}},
      "text": {"field": "t"}}},
    {"data": {"name": "letters"}, "transform": [{"filter": "datum.p == 'c'"}], "mark": {"type": "text", "font": "DejaVu Sans", "fontWeight": "bold", "fontSize": 20, "color": "black", "align": "center", "baseline": "middle"},
     "encoding": {"x": {"field": "x", "type": "quantitative", "axis": null}, "y": {"field": "y", "type": "quantitative", "axis": null}, "text": {"field": "t"}}}
   ],
   "resolve": {"axis": {"x": "independent", "y": "independent"}}},
  {"vconcat": [
   {"width": 260, "height": 173,
    "layer": [
     {"data": {"name": "f_cur"}, "mark": {"type": "line", "color": "#e8262a", "strokeWidth": 1.6},
      "encoding": {
       "x": {"field": "t", "type": "quantitative", "scale": {"domain": [-8.92e-15, 7.64e-15], "nice": false, "zero": false}, "axis": {"orient": "bottom", "values": [-7.5e-15,-5e-15,-2.5e-15,0,2.5e-15,5e-15,7.5e-15], "tickSize": {"condition": {"test": "abs(datum.value) < 1e-18 || abs(abs(datum.value) - 5e-15) < 1e-18", "value": -12}, "value": -6}, "labels": false, "title": null}},
       "y": {"field": "v", "type": "quantitative", "scale": {"domain": [0, 20.3], "nice": false, "zero": false}, "axis": {"orient": "left", "values": [0,3,6,9,12,15,18], "tickSize": {"condition": {"test": "datum.value % 6 == 0", "value": -12}, "value": -6}, "labels": false, "title": null}}}},
     {"data": {"name": "notes"}, "transform": [{"filter": "datum.p == 'f'"}], "mark": {"type": "text", "font": "DejaVu Serif", "fontSize": 19, "color": "black", "align": "center", "baseline": "middle"},
      "encoding": {"x": {"field": "x", "type": "quantitative", "axis": {"orient": "top", "values": [-7.5e-15,-5e-15,-2.5e-15,0,2.5e-15,5e-15,7.5e-15], "tickSize": {"condition": {"test": "abs(datum.value) < 1e-18 || abs(abs(datum.value) - 5e-15) < 1e-18", "value": -12}, "value": -6}, "labels": false, "title": null}},
       "y": {"field": "y", "type": "quantitative", "axis": {"orient": "right", "values": [0,3,6,9,12,15,18], "tickSize": {"condition": {"test": "datum.value % 6 == 0", "value": -12}, "value": -6}, "labels": false, "title": null}},
       "text": {"field": "t"}}},
     {"data": {"name": "letters"}, "transform": [{"filter": "datum.p == 'f'"}], "mark": {"type": "text", "font": "DejaVu Sans", "fontWeight": "bold", "fontSize": 20, "color": "black", "align": "center", "baseline": "middle"},
      "encoding": {"x": {"field": "x", "type": "quantitative", "axis": null}, "y": {"field": "y", "type": "quantitative", "axis": null}, "text": {"field": "t"}}}
    ],
    "resolve": {"axis": {"x": "independent", "y": "independent"}}},
   {"width": 260, "height": 170,
    "layer": [
     {"data": {"name": "i_blk"}, "mark": {"type": "line", "color": "#111111", "strokeWidth": 1.6},
      "encoding": {
       "x": {"field": "t", "type": "quantitative", "scale": {"domain": [-8.92e-15, 7.64e-15], "nice": false, "zero": false}, "axis": {"orient": "bottom", "values": [-7.5e-15,-5e-15,-2.5e-15,0,2.5e-15,5e-15,7.5e-15], "tickSize": {"condition": {"test": "abs(datum.value) < 1e-18 || abs(abs(datum.value) - 5e-15) < 1e-18", "value": -12}, "value": -6}, "labelExpr": "abs(datum.value) < 1e-18 ? '0' : abs(datum.value - 5e-15) < 1e-18 ? '5×10⁻¹⁵' : abs(datum.value + 5e-15) < 1e-18 ? '-5×10⁻¹⁵' : ''", "labelPadding": 22, "title": "Time (second)", "titleY": 55, "titleBaseline": "middle"}},
       "y": {"field": "v", "type": "quantitative", "scale": {"domain": [0, 7e-7], "nice": false, "zero": false}, "axis": {"orient": "left", "values": [0,1.25e-7,2.5e-7,3.75e-7,5e-7,6.25e-7], "tickSize": {"condition": {"test": "abs(datum.value * 4e6 - round(datum.value * 4e6)) < 1e-6", "value": -12}, "value": -6}, "labels": false, "title": null}}}},
     {"data": {"name": "i_red"}, "mark": {"type": "line", "color": "#e8262a", "strokeWidth": 1.6},
      "encoding": {"x": {"field": "t", "type": "quantitative", "axis": null}, "y": {"field": "v", "type": "quantitative", "axis": null}}},
     {"data": {"name": "notes"}, "transform": [{"filter": "datum.p == 'i'"}], "mark": {"type": "text", "font": "DejaVu Serif", "fontSize": 19, "color": "black", "align": "center", "baseline": "middle"},
      "encoding": {"x": {"field": "x", "type": "quantitative", "axis": {"orient": "top", "values": [-7.5e-15,-5e-15,-2.5e-15,0,2.5e-15,5e-15,7.5e-15], "tickSize": {"condition": {"test": "abs(datum.value) < 1e-18 || abs(abs(datum.value) - 5e-15) < 1e-18", "value": -12}, "value": -6}, "labels": false, "title": null}},
       "y": {"field": "y", "type": "quantitative", "axis": {"orient": "right", "values": [0,1.25e-7,2.5e-7,3.75e-7,5e-7,6.25e-7], "tickSize": {"condition": {"test": "abs(datum.value * 4e6 - round(datum.value * 4e6)) < 1e-6", "value": -12}, "value": -6}, "labels": false, "title": null}},
       "text": {"field": "t"}}},
     {"data": {"name": "letters"}, "transform": [{"filter": "datum.p == 'i'"}], "mark": {"type": "text", "font": "DejaVu Sans", "fontWeight": "bold", "fontSize": 20, "color": "black", "align": "center", "baseline": "middle"},
      "encoding": {"x": {"field": "x", "type": "quantitative", "axis": null}, "y": {"field": "y", "type": "quantitative", "axis": null}, "text": {"field": "t"}}}
    ],
    "resolve": {"axis": {"x": "independent", "y": "independent"}}}
  ], "spacing": 0, "bounds": "flush"}
 ], "spacing": 59, "bounds": "flush"}
], "spacing": 12.5, "align": "each"
}
